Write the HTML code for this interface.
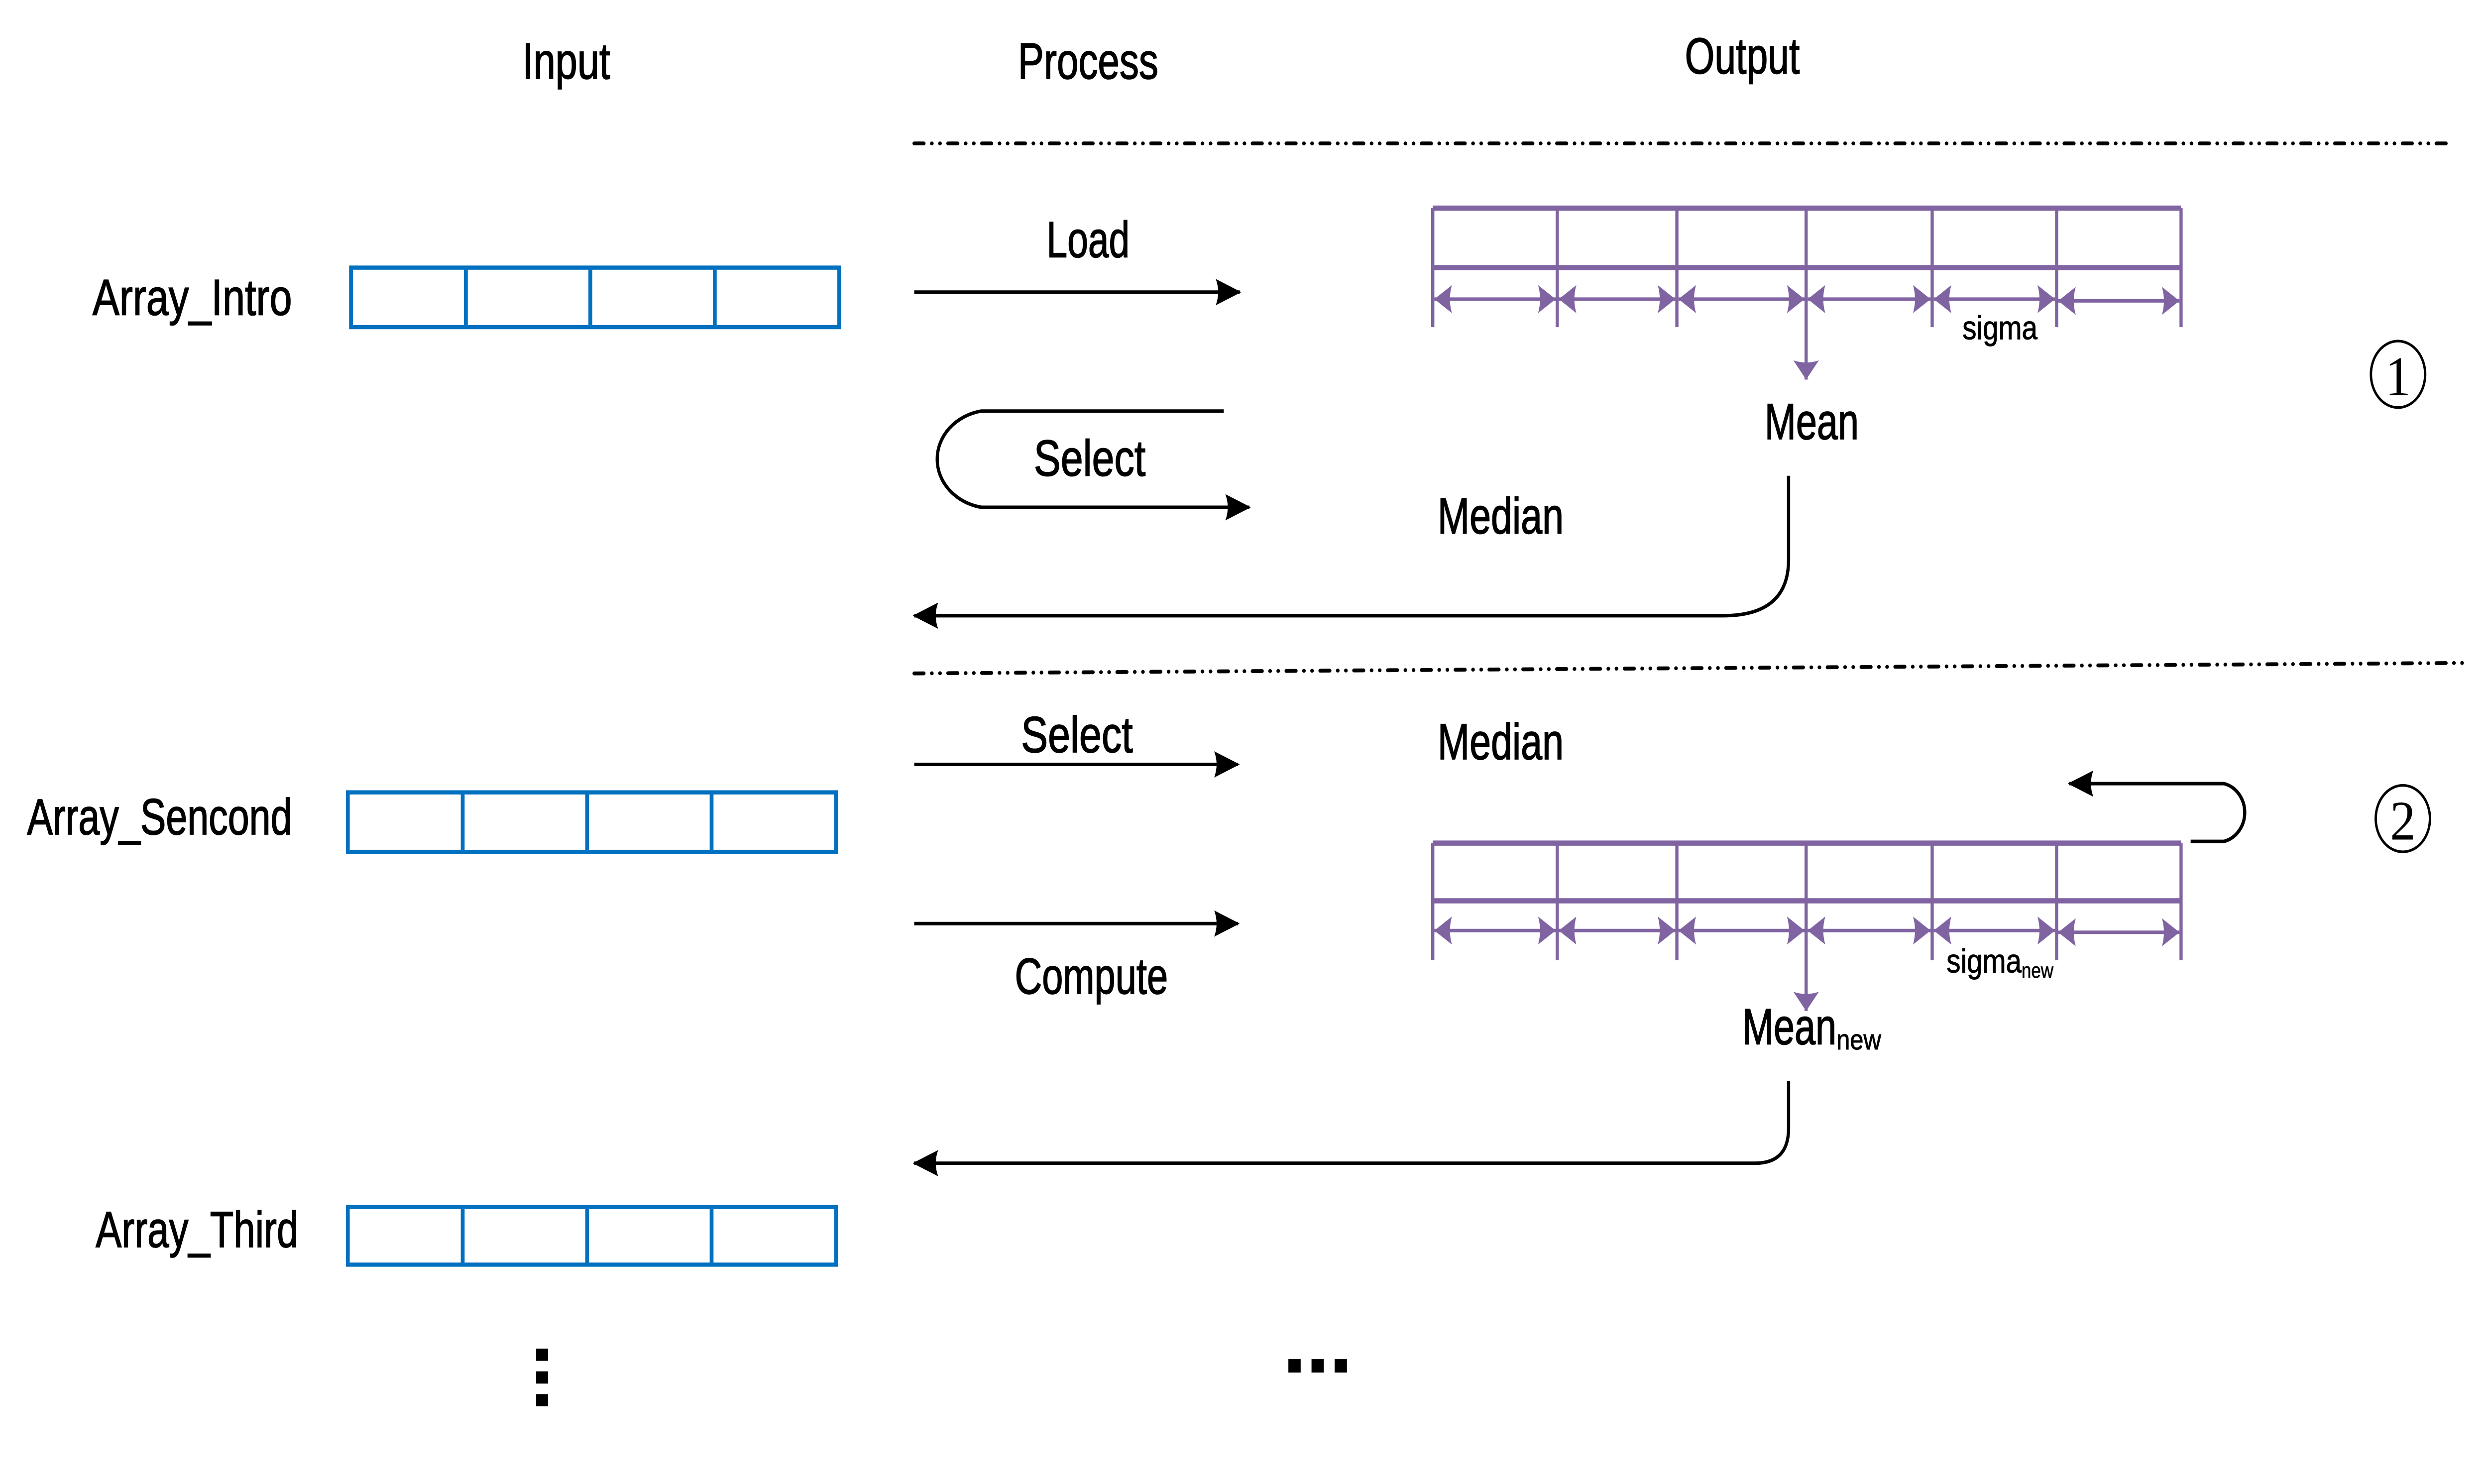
<!DOCTYPE html>
<html><head><meta charset="utf-8"><style>html,body{margin:0;padding:0;background:#fff;overflow:hidden;width:100%;height:100%}svg{display:block;position:fixed;left:0;top:0;width:100vw;height:100vh}</style></head>
<body>
<svg xmlns="http://www.w3.org/2000/svg" viewBox="0 0 1560 848.4" preserveAspectRatio="none">
<defs>
<marker id="ab" viewBox="0 0 16 15" refX="15" refY="7.5" markerWidth="16" markerHeight="15" markerUnits="userSpaceOnUse" orient="auto-start-reverse">
<path d="M0,0 L16,7.5 L0,15 Q3,7.5 0,0Z" fill="#000"/></marker>
<marker id="ap" viewBox="0 0 11 16" refX="11" refY="8" markerWidth="11" markerHeight="16" markerUnits="userSpaceOnUse" orient="auto-start-reverse">
<path d="M0,0 L11,8 L0,16 Q2.5,8 0,0Z" fill="#8064A2"/></marker>
</defs>
<g font-family="'Liberation Sans Narrow','Liberation Sans',sans-serif" fill="#000" stroke="#000" stroke-width="0.5">
<text x="355" y="45" font-size="29" text-anchor="middle" textLength="55" lengthAdjust="spacingAndGlyphs">Input</text>
<text x="682" y="45" font-size="29" text-anchor="middle" textLength="88" lengthAdjust="spacingAndGlyphs">Process</text>
<text x="1092" y="42" font-size="29" text-anchor="middle" textLength="72" lengthAdjust="spacingAndGlyphs">Output</text>
<text x="58" y="180" font-size="29" textLength="125" lengthAdjust="spacingAndGlyphs">Array_Intro</text>
<text x="17" y="477" font-size="29" textLength="166" lengthAdjust="spacingAndGlyphs">Array_Sencond</text>
<text x="60" y="713" font-size="29" textLength="127" lengthAdjust="spacingAndGlyphs">Array_Third</text>
<text x="682" y="147" font-size="29" text-anchor="middle" textLength="52" lengthAdjust="spacingAndGlyphs">Load</text>
<text x="683" y="272" font-size="29" text-anchor="middle" textLength="70" lengthAdjust="spacingAndGlyphs">Select</text>
<text x="675" y="430" font-size="29" text-anchor="middle" textLength="70" lengthAdjust="spacingAndGlyphs">Select</text>
<text x="684" y="568" font-size="29" text-anchor="middle" textLength="96" lengthAdjust="spacingAndGlyphs">Compute</text>
<text x="901" y="305" font-size="29" textLength="79" lengthAdjust="spacingAndGlyphs">Median</text>
<text x="901" y="434" font-size="29" textLength="79" lengthAdjust="spacingAndGlyphs">Median</text>
<text x="1106" y="251" font-size="29" textLength="59" lengthAdjust="spacingAndGlyphs">Mean</text>
<text x="1230" y="194" font-size="19" stroke-width="0.3" textLength="47" lengthAdjust="spacingAndGlyphs">sigma</text>
<text x="1092" y="597" font-size="29" textLength="59" lengthAdjust="spacingAndGlyphs">Mean</text>
<text x="1151" y="600" font-size="16" stroke-width="0.3" textLength="28" lengthAdjust="spacingAndGlyphs">new</text>
<text x="1220" y="556" font-size="19" stroke-width="0.3" textLength="47" lengthAdjust="spacingAndGlyphs">sigma</text>
<text x="1267" y="559" font-size="12" stroke-width="0.2" textLength="20" lengthAdjust="spacingAndGlyphs">new</text>
</g>
<g font-family="'Liberation Serif',serif" fill="#000" text-anchor="middle">
<ellipse cx="1503" cy="214" rx="17" ry="19" fill="none" stroke="#000" stroke-width="1.5"/>
<text x="1503" y="226" font-size="32">1</text>
<ellipse cx="1506" cy="468" rx="17" ry="19" fill="none" stroke="#000" stroke-width="1.5"/>
<text x="1506" y="480" font-size="32">2</text>
</g>
<g stroke="#000" stroke-width="2.2" stroke-linecap="round" stroke-dasharray="6 5 0.1 5 0.1 5">
<line x1="573" y1="82" x2="1537" y2="82"/>
<line x1="573" y1="385" x2="1545" y2="379"/>
</g>
<g fill="none" stroke="#0070C0" stroke-width="2.4">
<rect x="220" y="153" width="306" height="34"/><path d="M292 153V187M370 153V187M448 153V187"/>
<rect x="218" y="453" width="306" height="34"/><path d="M290 453V487M368 453V487M446 453V487"/>
<rect x="218" y="690" width="306" height="33"/><path d="M290 690V723M368 690V723M446 690V723"/>
</g>
<g fill="none" stroke="#000" stroke-width="2">
<line x1="573" y1="167" x2="777" y2="167" marker-end="url(#ab)"/>
<path d="M767 235H615A34 28 0 0 0 615 290H783" marker-end="url(#ab)"/>
<path d="M1121 272V320Q1121 352 1080 352H573" marker-end="url(#ab)"/>
<line x1="573" y1="437" x2="776" y2="437" marker-end="url(#ab)"/>
<line x1="573" y1="528" x2="776" y2="528" marker-end="url(#ab)"/>
<path d="M1373 481H1394A17 17 0 0 0 1394 448H1297" marker-end="url(#ab)"/>
<path d="M1121 618V645Q1121 665 1100 665H573" marker-end="url(#ab)"/>
</g>
<g fill="none" stroke="#8064A2" stroke-width="2">
<path d="M898 119H1367M898 153H1367" stroke-width="3"/>
<path d="M898 119V187M976 119V187M1051 119V187M1132 119V187M1211 119V187M1289 119V187M1367 119V187"/>
<g marker-start="url(#ap)" marker-end="url(#ap)">
<line x1="899" y1="171" x2="975" y2="171"/><line x1="977" y1="171" x2="1050" y2="171"/><line x1="1052" y1="171" x2="1131" y2="171"/>
<line x1="1133" y1="171" x2="1210" y2="171"/><line x1="1212" y1="171" x2="1288" y2="171"/><line x1="1290" y1="172" x2="1366" y2="172"/>
</g>
<line x1="1132" y1="187" x2="1132" y2="217" marker-end="url(#ap)"/>
<path d="M898 482H1367M898 515H1367" stroke-width="3"/>
<path d="M898 482V549M976 482V549M1051 482V549M1132 482V549M1211 482V549M1289 482V549M1367 482V549"/>
<g marker-start="url(#ap)" marker-end="url(#ap)">
<line x1="899" y1="532" x2="975" y2="532"/><line x1="977" y1="532" x2="1050" y2="532"/><line x1="1052" y1="532" x2="1131" y2="532"/>
<line x1="1133" y1="532" x2="1210" y2="532"/><line x1="1212" y1="532" x2="1288" y2="532"/><line x1="1290" y1="533" x2="1366" y2="533"/>
</g>
<line x1="1132" y1="549" x2="1132" y2="578" marker-end="url(#ap)"/>
</g>
<g fill="#000">
<rect x="336" y="771" width="7.5" height="7"/><rect x="336" y="784" width="7.5" height="7"/><rect x="336" y="797" width="7.5" height="7"/>
<rect x="807.5" y="777" width="7.7" height="7.7"/><rect x="822" y="777" width="7.7" height="7.7"/><rect x="836.5" y="777" width="7.7" height="7.7"/>
</g>
</svg>
</body></html>
